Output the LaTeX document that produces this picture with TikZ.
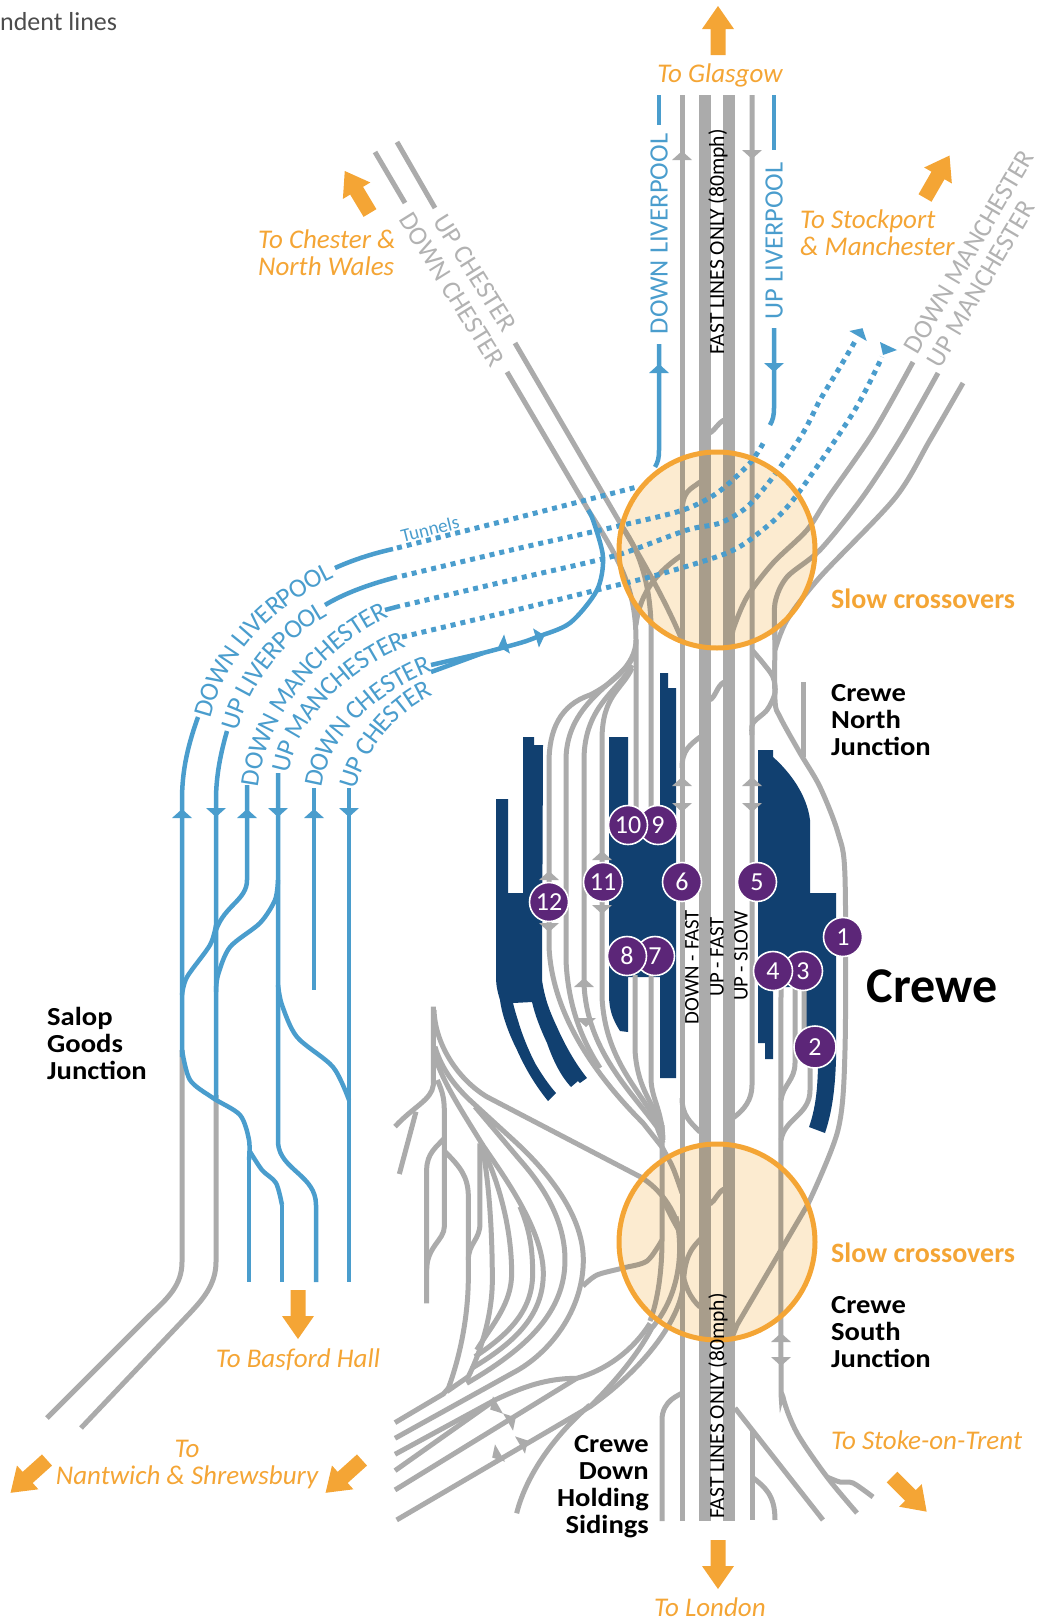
\documentclass[tikz,border=0pt]{standalone}
\usepackage{fontspec}
\setmainfont{Carlito}
\newfontfamily\headfont{Carlito}[FakeStretch=1.1]
\usetikzlibrary{decorations.text}
\definecolor{TrackGrey}{RGB}{171,171,171}
\definecolor{LabelGrey}{RGB}{178,178,178}
\definecolor{RouteBlue}{RGB}{74,157,205}
\definecolor{StationNavy}{RGB}{17,64,112}
\definecolor{BadgePurple}{RGB}{92,38,120}
\definecolor{SignOrange}{RGB}{244,165,53}
\definecolor{TintOrange}{RGB}{252,235,208}
\newcommand{\routefont}{\fontsize{26.5}{27}\selectfont}
\tikzset{
  track/.style={draw=TrackGrey, line width=5pt},
  fastline/.style={draw=TrackGrey, line width=12pt},
  route/.style={draw=RouteBlue, line width=4.5pt},
  tunnel/.style={draw=RouteBlue, line width=5pt, dash pattern=on 5pt off 5pt},
  station/.style={fill=StationNavy},
  ring/.style={draw=SignOrange, line width=5pt},
  badge/.style={circle, fill=BadgePurple, draw=white, line width=1.6pt, minimum size=39pt,
    inner sep=0pt, text=white, font=\fontsize{26}{26}\selectfont},
  signlabel/.style={text=SignOrange, font=\fontsize{27}{27}\selectfont\itshape, align=left, inner sep=0pt},
  slowlabel/.style={text=SignOrange, font=\fontsize{28}{28}\selectfont\bfseries, inner sep=0pt, anchor=west},
  placelabel/.style={text=black, font=\headfont\fontsize{26}{27}\selectfont\bfseries, inner sep=0pt},
  greylabel/.style={text=LabelGrey, font=\routefont, inner sep=0pt},
  bluelabel/.style={text=RouteBlue, font=\routefont, inner sep=0pt},
  roadlabel/.style={text=black, font=\fontsize{20.8}{21}\selectfont, inner sep=0pt, rotate=90},
  fastlabel/.style={text=black, font=\fontsize{21.6}{22}\selectfont, inner sep=0pt, rotate=90},
  curvelabel/.style={decoration={text along path, text align=center, raise=-8.5pt,
    text={|\routefont\color{RouteBlue}|#1}}, decorate},
  pics/headtip/.style={code={\fill[#1] (0,-10) -- (9,0) -- (0,10) -- cycle;}},
  pics/bigarrow/.style={code={\fill[SignOrange] (0,-7.5) -- (26,-7.5) -- (26,-16) -- (49,0) -- (26,16) -- (26,7.5) -- (0,7.5) -- cycle;}}
}
\begin{document}
\begin{tikzpicture}[x=1pt,y=-1pt]
\useasboundingbox (0,0) rectangle (1041,1622);
% station buildings
\fill[station] (496,799) -- (508,799) -- (508,893) -- (523,893) -- (523,737) -- (534,737) -- (534,745) -- (543,745)
  -- (542,980) .. controls (545,1000) and (550,1012) .. (557,1027) .. controls (565,1045) and (575,1063) .. (587,1078)
  -- (580,1083) -- (578,1081) -- (571,1087) .. controls (560,1075) and (553,1060) .. (547,1043) .. controls (540,1028) and (535,1015) .. (532,1002)
  -- (513,1003) .. controls (516,1015) and (518,1020) .. (520,1027) .. controls (525,1042) and (530,1053) .. (535,1063) .. controls (542,1075) and (549,1085) .. (556,1093)
  -- (548,1101) .. controls (535,1085) and (525,1068) .. (517,1050) .. controls (508,1032) and (502,1015) .. (500,1000) .. controls (497,990) and (496,985) .. (496,975) -- cycle;
\fill[station] (660,673) -- (668,673) -- (668,688) -- (676,688) -- (676,1078) -- (660,1078) -- (660,977) -- (628,977) -- (628,1032)
  -- (620,1031) .. controls (613,1020) and (609,1010) .. (609,995) -- (609,737) -- (628,737) -- (628,825) -- (660,825) -- cycle;
\fill[station] (758,750) -- (773,750) -- (773,757) .. controls (790,772) and (807,795) .. (810,820) -- (810,893) -- (836,893) -- (836,1060)
  .. controls (835,1090) and (832,1112) .. (825,1133) -- (809,1127) .. controls (815,1110) and (818,1090) .. (818,1060) -- (805,1040) -- (805,987)
  -- (773,987) -- (773,1059) -- (765,1059) -- (765,1043) -- (758,1043) -- cycle;
% fast and slow lines
\foreach \fastx in {705,728.5}
  \draw[fastline] (\fastx,95) -- (\fastx,1521);
\draw[track] (682,95) -- (682,1521);
\draw[track] (752,95) -- (752,1085) .. controls (752,1100) and (744,1110) .. (733,1118);
\foreach \crossa/\crossb in {433/420,700/682,1204/1189}
  \draw[track] (710,\crossa) .. controls (716,\crossa-4) and (717,\crossb+4) .. (724,\crossb);
\draw[track] (682,515) .. controls (682,490) and (690,490) .. (700,482);
\draw[track] (682,768) .. controls (682,750) and (690,745) .. (700,737);
\draw[track] (682,1098) .. controls (682,1115) and (690,1122) .. (700,1132);
\draw[track] (682,1268) .. controls (684,1285) and (690,1298) .. (700,1307);
\draw[track] (682,1393) .. controls (680,1395) and (662,1400) .. (662,1420) -- (662,1521);
% chester lines
\draw[track] (397,142) -- (435,208);
\draw[track] (375,152) -- (405,203);
\draw[track] (515,343) -- (623,528) .. controls (640,552) and (650,585) .. (651,625) -- (651,830);
\draw[track] (623,528) .. controls (645,565) and (665,600) .. (682,640);
\draw[track] (507,372) -- (590,513) .. controls (620,560) and (636,590) .. (636,640) -- (636,830);
\draw[track] (682,555) .. controls (660,570) and (640,590) .. (636,625);
% fan to the west of the station
\draw[track] (636,640) .. controls (636,665) and (610,685) .. (590,695) .. controls (560,705) and (549,730) .. (549,763) -- (549,947)
  .. controls (552,1010) and (590,1070) .. (643,1123) -- (662,1147);
\draw[track] (634,655) .. controls (625,680) and (566,700) .. (566,760) -- (566,960) .. controls (568,1010) and (585,1045) .. (600,1068);
\draw[track] (632,665) .. controls (620,690) and (584,705) .. (584,760) -- (584,984) .. controls (587,1050) and (630,1090) .. (657,1127) -- (663,1143);
\draw[track] (632,668) .. controls (622,690) and (602,695) .. (602,740) -- (602,997) .. controls (605,1060) and (640,1090) .. (662,1130);
\draw[track] (635,975) -- (635,1050) .. controls (637,1085) and (650,1100) .. (662,1125);
\draw[track] (651,975) -- (651,1080) .. controls (652,1100) and (662,1110) .. (663,1140);
% manchester lines and the east side
\draw[track] plot[smooth] coordinates {(913,362) (873,433) (828,498) (807,530) (773,563) (747,597) (733,630) (732,645)};
\draw[track] plot[smooth] coordinates {(938,373) (900,440) (862,498) (820,550) (787,577) (775,603) (775,640)};
\draw[track] plot[smooth] coordinates {(963,383) (930,440) (895,498) (820,577) (787,620) (775,650)};
\draw[track] plot[smooth] coordinates {(775,630) (775,700) (780,717) (800,753) (820,787) (838,833) (845,877) (845,1050) (838,1130) (808,1204)};
\draw[track] (808,1204) -- (737,1325) -- (733,1335);
\draw[track] plot[smooth] coordinates {(752,650) (763,663) (773,677) (775,693) (767,710) (753,723) (752,735)};
\draw[track] (803,682) -- (803,757);
\draw[track] plot[smooth] coordinates {(781,985) (781,1363) (783,1397) (797,1433) (827,1477) (857,1513)};
\draw[track] plot[smooth] coordinates {(827,1477) (840,1482) (853,1483) (873,1497)};
\draw[track] (795,985) -- (795,1063) .. controls (795,1080) and (783,1085) .. (781,1100);
\draw[track] (804,985) -- (804,1040) -- (810,1060) -- (810,1090) .. controls (810,1115) and (785,1118) .. (781,1140);
% south end
\draw[track] (735,1408) -- (823,1520);
\draw[track] (752,1430) -- (752,1520);
\draw[track] (752,1477) .. controls (765,1487) and (775,1495) .. (775,1520);
\draw[track] (662,1125) -- (662,1240) .. controls (662,1270) and (658,1300) .. (650,1321);
\draw[track] plot[smooth] coordinates {(662,1147) (673,1168) (682,1193)};
\draw[track] plot[smooth] coordinates {(663,1200) (672,1218) (682,1236)};
\draw[track] plot[smooth] coordinates {(583,1286) (597,1275) (623,1268) (647,1261) (662,1240)};
% sidings
\begin{scope}[shift={(380,1000)},x=0.3333pt,y=-0.3333pt]
\draw[track] (160,20) -- (160,255) .. controls (155,300) and (100,320) .. (45,380);
\draw[track] (108,335) -- (58,522);
\draw[track] (162,30) .. controls (165,130) and (230,235) .. (320,290) -- (780,530) .. controls (840,565) and (900,640) .. (906,740);
\draw[track] (888,650) .. controls (910,740) and (905,880) .. (815,985) .. controls (770,1070) and (700,1150) .. (630,1220);
\draw[track] (970,710) .. controls (925,750) and (915,780) .. (910,850) .. controls (905,950) and (800,1100) .. (630,1220) -- (50,1560);
\draw[track] (410,1540) .. controls (440,1420) and (530,1300) .. (630,1215);
\draw[track] (810,970) .. controls (760,1050) and (680,1110) .. (590,1135) .. controls (500,1135) and (430,1160) .. (345,1200) -- (45,1363);
\draw[track] (345,1200) -- (45,1412);
\draw[track] (590,1135) -- (45,1470);
\draw[track] (165,140) .. controls (185,210) and (230,265) .. (280,310) -- (400,420) .. controls (510,520) and (610,650) .. (610,780)
  .. controls (610,930) and (510,1060) .. (400,1118) -- (45,1315);
\draw[track] (285,320) -- (420,480) .. controls (500,570) and (555,670) .. (555,780) .. controls (555,930) and (450,1040) .. (260,1150);
\draw[track] (165,170) .. controls (190,250) and (250,340) .. (305,430) .. controls (350,500) and (490,680) .. (490,820)
  .. controls (490,950) and (400,1030) .. (275,1105);
\draw[track] (420,620) .. controls (450,690) and (458,750) .. (458,820) .. controls (458,930) and (390,1000) .. (285,1070);
\draw[track] (315,460) .. controls (360,560) and (395,690) .. (395,820) .. controls (395,910) and (340,970) .. (290,1050);
\draw[track] (305,430) .. controls (325,530) and (337,680) .. (337,840) .. controls (337,950) and (300,1060) .. (265,1130) -- (200,1175);
\draw[track] (300,430) -- (300,670) .. controls (300,720) and (265,730) .. (265,780);
\draw[track] (195,455) .. controls (240,500) and (265,530) .. (265,590) -- (265,830) .. controls (265,950) and (240,1070) .. (205,1165) -- (190,1182) -- (45,1268);
\draw[track] (172,240) .. controls (190,280) and (193,300) .. (193,340) -- (193,680) .. controls (193,720) and (140,740) .. (140,810);
\draw[track] (193,415) .. controls (170,440) and (140,460) .. (140,510) -- (140,910);
\end{scope}
% grey lines west of the blue ones
\draw[track] (182,1050) -- (182,1262) .. controls (182,1285) and (168,1298) .. (150,1315) -- (47,1418);
\draw[track] (216,1095) -- (216,1262) .. controls (216,1285) and (202,1300) .. (190,1313) -- (81,1428);
% tint of the crossover areas
\fill[TintOrange, blend mode=multiply] (717,550) circle (98);
\fill[TintOrange, blend mode=multiply] (717,1242) circle (98);
% blue routes
\draw[route] (182,1057) -- (182,800) .. controls (182,770) and (188,745) .. (198,717);
\draw[route] (335,568) .. controls (355,559) and (375,553) .. (393,549);
\draw[route] (216,1098) -- (216,800) .. controls (216,775) and (221,752) .. (227,731);
\draw[route] (325,605) .. controls (345,593) and (370,584) .. (397,577);
\draw[route] (247,785) -- (247,880) .. controls (247,900) and (225,905) .. (216,930);
\draw[route] (385,610) -- (400,606);
\draw[route] (278,773) -- (278,1143) .. controls (280,1170) and (316,1175) .. (316,1205) -- (316,1282);
\draw[route] (314,788) -- (314,990);
\draw[route] (349,788) -- (349,1282);
\draw[route] plot[smooth] coordinates {(278,880) (275,900) (260,923) (230,947) (218,975) (216,992)};
\draw[route] plot[smooth] coordinates {(216,925) (210,945) (187,977) (182,995)};
\draw[route] plot[smooth] coordinates {(278,985) (282,1005) (297,1037) (333,1067) (349,1100)};
\draw[route] plot[smooth] coordinates {(182,1050) (190,1080) (213,1098) (240,1115) (249,1140) (249,1160)};
\draw[route] (249,1160) -- (249,1282);
\draw[route] plot[smooth] coordinates {(249,1150) (262,1170) (276,1183) (282,1205)};
\draw[route] (282,1205) -- (282,1282);
\draw[route] (431,665) -- (483,653);
\draw[route] (431,672) -- (483,653);
\draw[route] plot[smooth] coordinates {(483,653) (520,643) (537,637) (570,623) (597,590) (603,557) (593,520) (588,510)};
\draw[route] (659,95) -- (659,125);
\draw[route] (659,344) -- (659,450) .. controls (659,458) and (658,462) .. (655,467);
\draw[route] (774,95) -- (774,150);
\draw[route] (774,328) -- (774,408) .. controls (774,415) and (773,420) .. (770,425);
\draw[tunnel] (397,548) -- (520,517) -- (637,487);
\draw[tunnel] plot[smooth] coordinates {(402,576) (520,548) (623,525) (683,510) (717,493) (750,463) (765,440)};
\draw[tunnel] plot[smooth] coordinates {(405,605) (520,578) (590,562) (627,552) (687,530) (720,523) (747,507) (773,477) (803,433) (820,400) (840,367) (857,338)};
\draw[tunnel] plot[smooth] coordinates {(402,637) (520,609) (597,590) (657,575) (727,553) (760,532) (793,500) (853,413) (882,357)};
\fill[RouteBlue] (880,342) -- (897,350) -- (883,355) -- cycle;
% orange rings
\draw[ring] (717,550) circle (98);
\draw[ring] (717,1242) circle (98);
% arrow tips on the lines
\foreach \headx/\heady/\headrot in {182/818/90,216/808/-90,247/818/90,278/808/-90,314/818/90,349/808/-90,659/373/90,774/363/-90,507/644/197,536/638/17,858/336/60}
  \pic[rotate=\headrot] at (\headx,\heady) {headtip=RouteBlue};
\foreach \headx/\heady/\headrot in {682/160/90,752/150/-90,682/786/90,682/803/-90,752/786/90,752/803/-90,602/860/90,602/905/-90,549/880/90,549/923/-90,584/987/90,586/1018/-90,781/1342/90,781/1357/-90,498/1405/210,508/1422/30,520/1445/30,500/1453/210}
  \pic[rotate=\headrot] at (\headx,\heady) {headtip=TrackGrey};
% big arrows
\foreach \arrx/\arry/\arrrot in {718/55/90,718/1540/-90,370/213/121,925/198/60,298/1290/-90,47/1460/222,362/1460/222,892/1477/-45}
  \pic[rotate=\arrrot] at (\arrx,\arry) {bigarrow};
% station numbers
\foreach \num/\numx/\numy in {1/843/937,3/803/971,4/773/971,5/757/882,6/682/882,7/655/956,8/627/956,9/658/825,10/628/825,11/603/882,12/549/902}
  \node[badge] (badge\num) at (\numx,\numy) {\num};
\node[badge, minimum size=42pt] (badge2) at (815,1047) {2};
% curved labels
\path[curvelabel={DOWN LIVERPOOL}] (202,718) .. controls (218,650) and (268,600) .. (333,569);
\path[curvelabel={UP LIVERPOOL}] (229,731) .. controls (240,685) and (275,635) .. (326,607);
\path[curvelabel={DOWN MANCHESTER}] (250,782) .. controls (260,710) and (315,645) .. (382,611);
\path[curvelabel={UP MANCHESTER}] (281,768) .. controls (292,715) and (340,665) .. (400,640);
\path[curvelabel={DOWN CHESTER}] (314,782) .. controls (322,735) and (365,690) .. (425,665);
\path[curvelabel={UP CHESTER}] (349,782) .. controls (358,750) and (385,710) .. (425,690);
% straight labels
\node[bluelabel, rotate=90] (downliverpool) at (659,234) {DOWN LIVERPOOL};
\node[bluelabel, rotate=90] (upliverpool) at (774,241) {UP LIVERPOOL};
\node[bluelabel, rotate=14, font=\fontsize{19}{19}\selectfont] (tunnels) at (430,529) {Tunnels};
\node[greylabel, rotate=-58] (upchester) at (475,273) {UP CHESTER};
\node[greylabel, rotate=-58] (downchester) at (452,290) {DOWN CHESTER};
\node[greylabel, rotate=59.5] (downmanchester) at (969,252) {DOWN MANCHESTER};
\node[greylabel, rotate=59.5] (upmanchester) at (981,284) {UP MANCHESTER};
\node[fastlabel] (fastnorth) at (718,242) {FAST LINES ONLY (80mph)};
\node[fastlabel] (fastsouth) at (718,1406) {FAST LINES ONLY (80mph)};
\node[roadlabel] (downfast) at (692,967) {DOWN - FAST};
\node[roadlabel] (upfast) at (717,957) {UP - FAST};
\node[roadlabel] (upslow) at (741,956) {UP - SLOW};
% signs
\node[signlabel, anchor=center] (glasgow) at (720,75) {To Glasgow};
\node[signlabel, anchor=west] (chester) at (258,253) {To Chester \&\\North Wales};
\node[signlabel, anchor=west] (stockport) at (800,233) {To Stockport\\\& Manchester};
\node[signlabel, anchor=center] (basford) at (298,1360) {To Basford Hall};
\node[signlabel, anchor=center, align=center] (nantwich) at (187,1464) {To\\Nantwich \& Shrewsbury};
\node[signlabel, anchor=west] (stoke) at (831,1440) {To Stoke-on-Trent};
\node[signlabel, anchor=center] (london) at (710,1607) {To London};
\node[slowlabel] (slownorth) at (831,599) {Slow crossovers};
\node[slowlabel] (slowsouth) at (831,1253) {Slow crossovers};
\node[placelabel, anchor=west, align=left] (crewenorth) at (831,720) {Crewe\\North\\Junction};
\node[placelabel, anchor=west, align=left] (crewesouth) at (831,1332) {Crewe\\South\\Junction};
\node[placelabel, anchor=west, align=left] (salop) at (47,1043) {Salop\\Goods\\Junction};
\node[placelabel, anchor=east, align=right] (holding) at (649,1487) {Crewe\\Down\\Holding\\Sidings};
\node[text=black, font=\fontsize{50}{50}\selectfont\bfseries, inner sep=0pt] (crewe) at (932,986) {Crewe};
\node[text=black!70, font=\fontsize{26}{26}\selectfont, inner sep=0pt, anchor=west] (topnote) at (0,22) {ndent lines};
\end{tikzpicture}
\end{document}
